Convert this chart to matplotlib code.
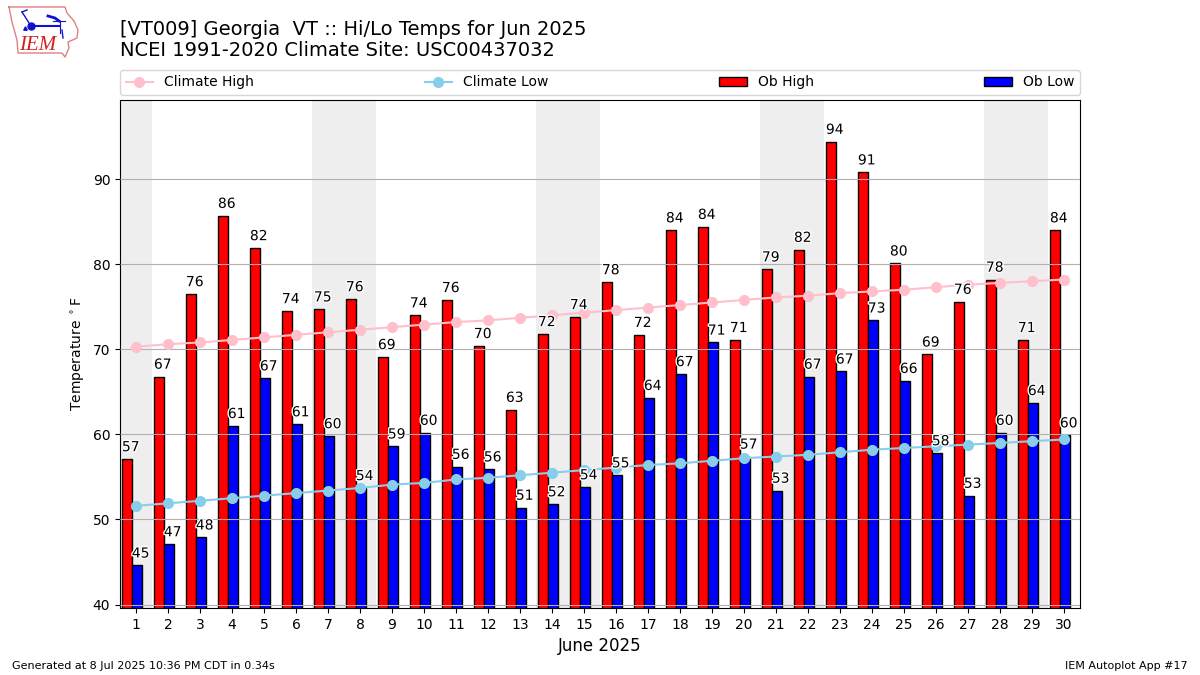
import matplotlib
matplotlib.use("Agg")
import matplotlib.pyplot as plt
import matplotlib.patheffects as pe

days = list(range(1, 31))
ob_high = [57.1, 66.8, 76.5, 85.7, 81.9, 74.5, 74.7, 75.9, 69.1, 74.0,
           75.8, 70.4, 62.9, 71.8, 73.8, 77.9, 71.7, 84.0, 84.4, 71.1,
           79.4, 81.7, 94.4, 90.8, 80.1, 69.4, 75.6, 78.2, 71.1, 84.0]
ob_low = [44.6, 47.1, 47.9, 61.0, 66.6, 61.2, 59.8, 53.7, 58.6, 60.2,
          56.2, 55.9, 51.4, 51.8, 53.8, 55.2, 64.3, 67.1, 70.8, 57.4,
          53.4, 66.8, 67.4, 73.4, 66.3, 57.8, 52.8, 60.2, 63.7, 59.9]
climate_high = [70.3, 70.6, 70.8, 71.1, 71.4, 71.7, 72.0, 72.3, 72.6, 72.9,
                73.2, 73.4, 73.7, 74.0, 74.3, 74.6, 74.9, 75.2, 75.5, 75.8,
                76.1, 76.3, 76.6, 76.8, 77.0, 77.3, 77.6, 77.8, 78.0, 78.2]
climate_low = [51.6, 51.9, 52.2, 52.5, 52.8, 53.1, 53.4, 53.7, 54.1, 54.3,
               54.7, 54.9, 55.2, 55.5, 55.8, 56.1, 56.4, 56.6, 56.9, 57.2,
               57.4, 57.6, 57.9, 58.2, 58.4, 58.6, 58.8, 59.0, 59.2, 59.4]
weekends = [(0.5, 1.5), (6.5, 8.5), (13.5, 15.5), (20.5, 22.5), (27.5, 29.5)]
logo_x = [9, 65, 67, 74, 78, 77, 68, 69, 65, 62, 18, 17, 12, 9]
logo_y = [7, 7, 13, 21, 30, 38, 42, 48, 57, 53, 53, 40, 22, 7]

fig = plt.figure(figsize=(12, 6.75), dpi=100)
ax = fig.add_axes([0.1, 0.0993, 0.8, 0.7526])

for start, end in weekends:
    ax.axvspan(start, end, color="#eeeeee", lw=0, zorder=0)

bar_w = 0.31
high_x = [d - 0.285 for d in days]
low_x = [d + 0.025 for d in days]
ax.bar(high_x, ob_high, width=bar_w, color="r", edgecolor="k", lw=1, label="Ob High", zorder=2)
ax.bar(low_x, ob_low, width=bar_w, color="b", edgecolor="k", lw=1, label="Ob Low", zorder=2)
ax.plot(days, climate_high, color="pink", marker="o", ms=7, lw=1.5, label="Climate High", zorder=3)
ax.plot(days, climate_low, color="skyblue", marker="o", ms=7, lw=1.5, label="Climate Low", zorder=3)

halo = [pe.withStroke(linewidth=2, foreground="white")]
for xs, vals in ((high_x, ob_high), (low_x, ob_low)):
    for x, v in zip(xs, vals):
        ax.annotate(f"{v:.0f}", (x - bar_w / 2, v), xytext=(0, 3.5), textcoords="offset points",
                    ha="left", va="bottom", fontsize=10, path_effects=halo, zorder=5)

ax.set_xlim(0.5, 30.5)
ax.set_ylim(39.6, 99.3)
ax.set_xticks(days)
ax.set_yticks([40, 50, 60, 70, 80, 90])
ax.set_axisbelow(False)
ax.grid(axis="y")
ax.set_ylabel(r"Temperature $^\circ$F")
ax.set_xlabel("June 2025", fontsize=12, labelpad=3.5)

handles, labels = ax.get_legend_handles_labels()
order = [labels.index(n) for n in ("Climate High", "Climate Low", "Ob High", "Ob Low")]
ax.legend([handles[i] for i in order], [labels[i] for i in order], ncol=4, mode="expand",
          loc="lower left", bbox_to_anchor=(0, 1.0098, 1, 0.05), borderaxespad=0)

fig.text(0.1, 0.9117, "[VT009] Georgia  VT :: Hi/Lo Temps for Jun 2025\nNCEI 1991-2020 Climate Site: USC00437032",
         fontsize=14, va="bottom", ha="left", linespacing=1.1)
fig.text(0.01, 0.0085, "Generated at 8 Jul 2025 10:36 PM CDT in 0.34s", fontsize=8)
fig.text(0.99, 0.0085, "IEM Autoplot App #17", fontsize=8, ha="right")

# logo, drawn in pixel coords
logo = fig.add_axes([0, 0, 1, 1], facecolor="none")
logo.set_xlim(0, 1200)
logo.set_ylim(675, 0)
logo.axis("off")
logo.plot(logo_x, logo_y, color="#e08080", lw=1)
blue = "#1010d0"
logo.plot([31, 60], [26, 26], color=blue, lw=1.5)
logo.plot([22, 31], [12, 26], color=blue, lw=1)
logo.plot([22, 27], [12, 10], color=blue, lw=1)
logo.plot([48, 55, 59], [16, 18, 21], color=blue, lw=2)
logo.plot([53, 65], [21, 21], color=blue, lw=0.8)
logo.plot([60, 60], [21, 33], color=blue, lw=0.8)
logo.plot([62, 63], [30, 38], color=blue, lw=1)
logo.plot([31], [26], marker="o", ms=5, color=blue)
logo.plot([25], [28], marker="^", ms=2.5, color=blue)
logo.text(37.5, 45, "IEM", color="#d02020", fontsize=15, family="Liberation Serif",
          style="italic", ha="center", va="center")

fig.savefig("out.png", dpi=100)
